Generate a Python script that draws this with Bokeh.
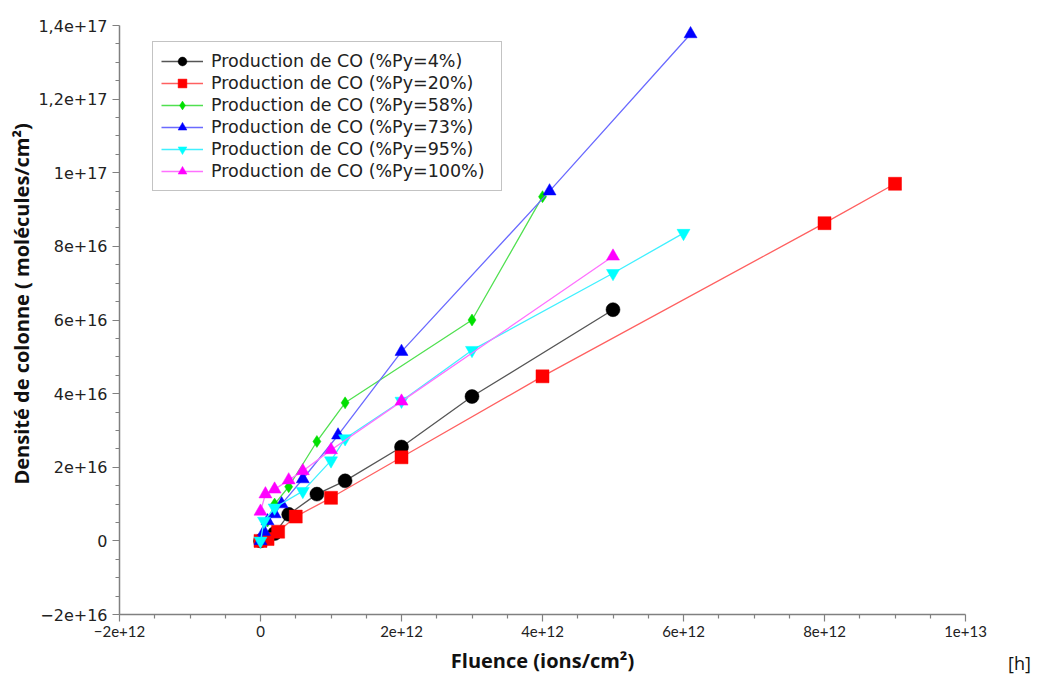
from bokeh.plotting import figure
from bokeh.models import (FixedTicker, CustomJSTickFormatter, Legend, LegendItem,
                          Range1d, Div, Title)
from bokeh.layouts import column
from bokeh.embed import file_html
from bokeh.resources import INLINE

# ---------------- data ----------------
series_labels = [
    "Production de CO (%Py=4%)",
    "Production de CO (%Py=20%)",
    "Production de CO (%Py=58%)",
    "Production de CO (%Py=73%)",
    "Production de CO (%Py=95%)",
    "Production de CO (%Py=100%)",
]

py4_x = [0, 0.2e12, 0.4e12, 0.8e12, 1.2e12, 2e12, 3e12, 5e12]
py4_y = [0, 2.0e15, 7.2e15, 1.27e16, 1.63e16, 2.55e16, 3.92e16, 6.28e16]

py20_x = [0, 0.1e12, 0.25e12, 0.5e12, 1e12, 2e12, 4e12, 8e12, 9e12]
py20_y = [0, 0.5e15, 2.5e15, 6.6e15, 1.17e16, 2.27e16, 4.47e16, 8.63e16, 9.7e16]

py58_x = [0, 0.1e12, 0.2e12, 0.4e12, 0.8e12, 1.2e12, 3e12, 4e12]
py58_y = [0, 5.4e15, 1.0e16, 1.47e16, 2.7e16, 3.75e16, 6.0e16, 9.35e16]

py73_x = [0, 0.05e12, 0.1e12, 0.2e12, 0.3e12, 0.6e12, 1.1e12, 2e12, 4.1e12, 6.1e12]
py73_y = [0, 2.5e15, 5.4e15, 7.3e15, 1.0e16, 1.68e16, 2.87e16, 5.14e16, 9.5e16, 1.377e17]

py95_x = [0, 0.05e12, 0.2e12, 0.6e12, 1.0e12, 1.2e12, 2e12, 3e12, 5e12, 6e12]
py95_y = [0, 5.4e15, 9.0e15, 1.35e16, 2.18e16, 2.78e16, 3.8e16, 5.18e16, 7.27e16, 8.36e16]

py100_x = [0, 0.07e12, 0.2e12, 0.4e12, 0.6e12, 1.0e12, 2e12, 5e12]
py100_y = [8.0e15, 1.27e16, 1.4e16, 1.65e16, 1.9e16, 2.47e16, 3.79e16, 7.73e16]

x_ticks = [-2e12, 0, 2e12, 4e12, 6e12, 8e12, 1e13]
y_ticks = [-2e16, 0, 2e16, 4e16, 6e16, 8e16, 1e17, 1.2e17, 1.4e17]

x_title = "Fluence (ions/cm\u00b2)"
y_title = "Densit\u00e9 de colonne ( mol\u00e9cules/cm\u00b2)"
corner_tag = "[h]"

# ---------------- styles ----------------
colors = ["#000000", "#ff0000", "#00e000", "#0000ff", "#00ffff", "#ff00ff"]
line_colors = ["#555555", "#ff6060", "#50e050", "#6a6aff", "#40f0ff", "#ff70ff"]
markers = ["circle", "square", "diamond", "triangle", "inverted_triangle", "triangle"]
sizes = [14, 13, 12, 13, 13, 13]

p = figure(width=1035, height=678, output_backend="svg", toolbar_location=None,
           x_range=Range1d(-2e12, 1e13), y_range=Range1d(-2e16, 1.4e17),
           min_border_left=119, min_border_right=70, min_border_top=25,
           min_border_bottom=64)
p.outline_line_color = None
p.xgrid.visible = False
p.ygrid.visible = False
p.background_fill_color = "white"
p.border_fill_color = "white"

fmt = CustomJSTickFormatter(code="""
if (Math.abs(tick) < 1) return "0";
const e = Math.floor(Math.log10(Math.abs(tick)) + 1e-9);
let m = Math.round(tick / Math.pow(10, e) * 10) / 10;
let s = String(m).replace(".", ",").replace("-", "\u2212");
return s + "e+" + e;
""")

x_minor = []
for i in range(len(x_ticks) - 1):
    step = (x_ticks[i + 1] - x_ticks[i]) / 4
    x_minor += [x_ticks[i] + k * step for k in range(1, 4)]
y_minor = []
for i in range(len(y_ticks) - 1):
    step = (y_ticks[i + 1] - y_ticks[i]) / 4
    y_minor += [y_ticks[i] + k * step for k in range(1, 4)]

p.xaxis.ticker = FixedTicker(ticks=x_ticks, minor_ticks=x_minor)
p.yaxis.ticker = FixedTicker(ticks=y_ticks, minor_ticks=y_minor)
for ax in (p.xaxis, p.yaxis):
    ax.formatter = fmt
    ax.axis_line_color = "#808080"
    ax.axis_line_width = 1.5
    ax.major_tick_line_color = "#808080"
    ax.minor_tick_line_color = "#808080"
    ax.major_tick_line_width = 1.2
    ax.minor_tick_line_width = 1.2
    ax.major_tick_in = 0
    ax.major_tick_out = 7
    ax.minor_tick_in = 0
    ax.minor_tick_out = 4
    ax.major_label_text_color = "#222222"
    ax.axis_label_text_font = "Open Sans"
    ax.axis_label_text_font_style = "bold"
    ax.axis_label_text_font_size = "20px"
    ax.axis_label_text_color = "#111111"

p.yaxis.major_label_text_font = "DejaVu Sans"
p.yaxis.major_label_text_font_size = "16px"
p.xaxis.major_label_text_font = "'Liberation Sans Narrow', Lato"
p.xaxis.major_label_text_font_size = "15px"

p.xaxis.axis_label = x_title
p.xaxis.major_label_standoff = 4
p.yaxis.major_label_standoff = 5
p.xaxis.axis_label_standoff = 7

ytitle = Title(text=y_title, align="left", offset=130, standoff=2,
               text_font="Open Sans", text_font_style="bold",
               text_font_size="20px", text_color="#111111")
p.add_layout(ytitle, "left")

xs = [py4_x, py20_x, py58_x, py73_x, py95_x, py100_x]
ys = [py4_y, py20_y, py58_y, py73_y, py95_y, py100_y]

items = []
for i in range(6):
    ln = p.line(xs[i], ys[i], line_color=line_colors[i], line_width=1.3)
    sc = p.scatter(xs[i], ys[i], marker=markers[i], size=sizes[i],
                   fill_color=colors[i], line_color=colors[i], line_width=0.5)
    items.append(LegendItem(label=series_labels[i], renderers=[ln, sc]))

legend = Legend(items=items, location=(33, 423), orientation="vertical")
legend.glyph_width = 42
legend.glyph_height = 22
legend.label_height = 22
legend.label_width = 282
legend.label_standoff = 8
legend.spacing = 0
legend.padding = 8
legend.margin = 0
legend.label_text_font = "DejaVu Sans"
legend.label_text_font_size = "17.5px"
legend.label_text_color = "#222222"
legend.border_line_color = "#888888"
legend.border_line_width = 1.5
legend.background_fill_alpha = 1
p.add_layout(legend, "center")

tag = Div(text=corner_tag, width=30, height=24, margin=(-27, 0, 0, 1008),
          styles={"font-family": "Open Sans", "font-size": "18px",
                  "line-height": "24px", "color": "#111111"})

layout = column(p, tag, spacing=0)
open("out.html", "w").write(file_html(layout, INLINE))
